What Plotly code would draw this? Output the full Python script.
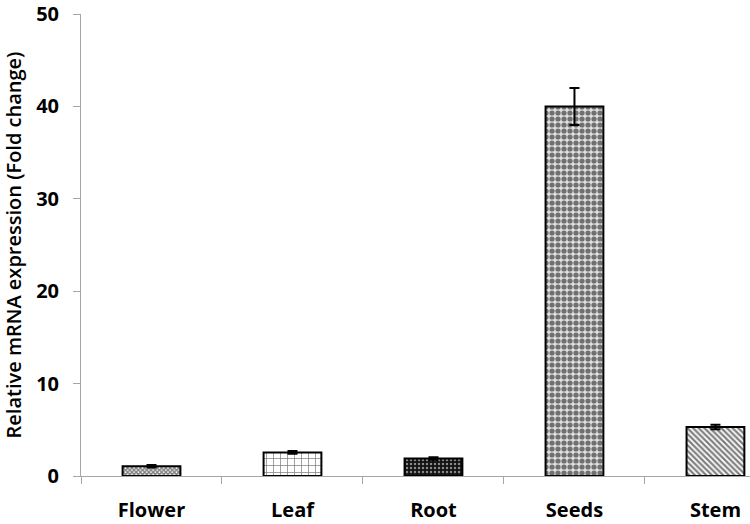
import plotly.graph_objects as go

categories = ["Flower", "Leaf", "Root", "Seeds", "Stem"]
values = [1.05, 2.55, 1.9, 40.0, 5.3]
errors = [0.13, 0.15, 0.14, 2.0, 0.25]
y_ticks = [0, 10, 20, 30, 40, 50]

patterns = [
    dict(shape="x", fgcolor="#000000", bgcolor="#ffffff", size=3, solidity=0.7, fillmode="overlay"),
    dict(shape="+", fgcolor="#000000", bgcolor="#ffffff", size=7, solidity=0.2, fillmode="overlay"),
    dict(shape=".", fgcolor="#ffffff", bgcolor="#111111", size=4, solidity=0.3, fillmode="overlay"),
    dict(shape=".", fgcolor="#000000", bgcolor="#e0e0e0", size=6, solidity=0.6, fillmode="overlay"),
    dict(shape="\\", fgcolor="#000000", bgcolor="#ffffff", size=4, solidity=0.55, fillmode="overlay"),
]

fig = go.Figure()
for cat, v, e, p in zip(categories, values, errors, patterns):
    fig.add_trace(go.Bar(
        x=[cat], y=[v],
        error_y=dict(type="data", array=[e], visible=True, color="black", thickness=2, width=5),
        marker=dict(color="white", pattern=p, line=dict(color="black", width=2)),
        width=0.41,
        showlegend=False,
    ))

fig.update_layout(
    width=750, height=524,
    margin=dict(l=81, r=0, t=14, b=48),
    paper_bgcolor="white", plot_bgcolor="white",
    font=dict(family="Open Sans", color="black"),
    barmode="overlay",
)
fig.update_xaxes(
    type="category", categoryorder="array", categoryarray=categories,
    range=[-0.5, 4.245], automargin=False,
    showline=True, linecolor="#a6a6a6", linewidth=1,
    ticks="outside", tickson="boundaries", ticklen=7, tickcolor="#a6a6a6",
    tickfont=dict(size=20, family="Open Sans", color="black", weight="bold"),
    ticklabelstandoff=16, ticklabeloverflow="allow",
    showgrid=False, zeroline=False,
)
fig.update_yaxes(
    range=[0, 50], tickvals=y_ticks, automargin=False,
    showline=True, linecolor="#a6a6a6", linewidth=1,
    ticks="outside", ticklen=7, tickcolor="#a6a6a6",
    tickfont=dict(size=20, family="Open Sans", color="black", weight="bold"),
    ticklabelstandoff=10, ticklabeloverflow="allow",
    showgrid=False, zeroline=False,
    title=dict(text="Relative mRNA expression (Fold change)",
               font=dict(size=20, family="Open Sans", color="black", weight=600),
               standoff=10),
)

fig.write_html("out.html", config={"displayModeBar": False},
               post_script="document.body.style.margin='0';document.body.style.overflow='hidden';")
